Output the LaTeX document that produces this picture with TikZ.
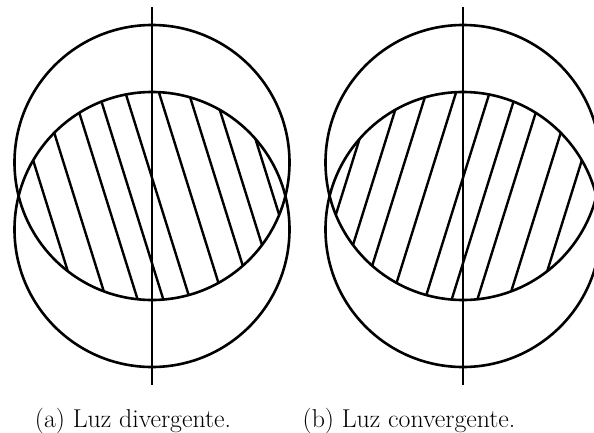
\documentclass[tikz,border=0pt]{standalone}
\begin{document}
\begin{tikzpicture}[x=1pt,y=-1pt,
  ink/.style={line width=2.6pt,black},
  hatchline/.style={line width=2.4pt,black},
  captiontext/.style={font=\fontsize{25.8}{30}\selectfont,anchor=base,inner sep=0pt}]
\useasboundingbox (0,0) rectangle (594,432);
% ---------- (a) ----------
\begin{scope}
  \coordinate (aU) at (152,162.5);
  \coordinate (aL) at (152,229.5);
  \coordinate (aTop) at (152,7);
  \coordinate (aBot) at (152,385);
  \begin{scope}
    \clip (aU) circle (137.5);
    \clip (aL) circle (137.5);
    \foreach \o in {-107.7,-78,-46.7,-21,5.7,39.3,69,94.7,121.3}{
      \draw[hatchline] ({152+\o+0.3125*(70-196)},70) -- ({152+\o+0.3125*(330-196)},330);
    }
  \end{scope}
  \draw[ink] (aU) circle (137.5);
  \draw[ink] (aL) circle (137.5);
  \draw[ink] (aTop) -- (aBot);
  \node[captiontext] (capa) at (133,427) {(a) Luz divergente.};
\end{scope}
% ---------- (b) ----------
\begin{scope}
  \coordinate (bU) at (463,162.5);
  \coordinate (bL) at (463,229.5);
  \coordinate (bTop) at (463,7);
  \coordinate (bBot) at (463,385);
  \begin{scope}
    \clip (bU) circle (137.5);
    \clip (bL) circle (137.5);
    \foreach \o in {-121.3,-94.7,-69,-39.3,-5.7,21,46.7,78,107.7}{
      \draw[hatchline] ({463+\o-0.3125*(70-196)},70) -- ({463+\o-0.3125*(330-196)},330);
    }
  \end{scope}
  \draw[ink] (bU) circle (137.5);
  \draw[ink] (bL) circle (137.5);
  \draw[ink] (bTop) -- (bBot);
  \node[captiontext] (capb) at (409,427) {(b) Luz convergente.};
\end{scope}
\end{tikzpicture}
\end{document}
